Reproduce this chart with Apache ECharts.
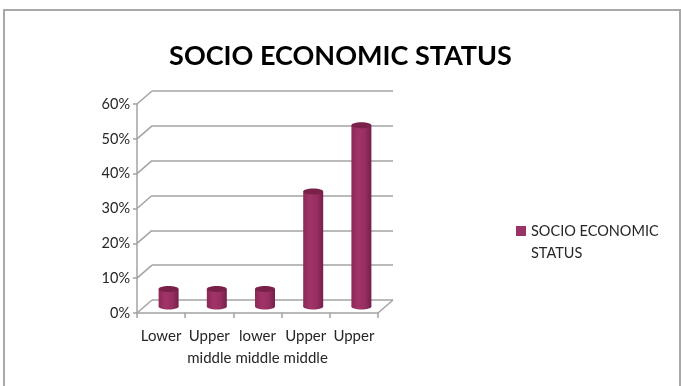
<!DOCTYPE html>
<html>
<head>
<meta charset="utf-8">
<script src="https://cdn.jsdelivr.net/npm/echarts@6/dist/echarts.min.js"></script>
<style>
  html, body { margin: 0; padding: 0; background: #fff; }
  #chart { width: 681px; height: 386px; }
</style>
</head>
<body>
<div id="chart"></div>
<script>
// Socio economic status distribution (share of respondents)
const categories = ['Lower', 'Upper\nmiddle', 'lower\nmiddle', 'Upper\nmiddle', 'Upper'];
const shares = [0.05, 0.05, 0.05, 0.33, 0.52];
const yTicks = [0, 0.1, 0.2, 0.3, 0.4, 0.5, 0.6];
const seriesName = 'SOCIO ECONOMIC STATUS';
const titleText = 'SOCIO ECONOMIC STATUS';

// depth of the pseudo-3D box (back wall is shifted right and up)
const DX = 15, DY = -13;
const FONT = 'Lato';
const GRID_GREY = '#a3a3a3';
const TEXT = '#262626';

const chart = echarts.init(document.getElementById('chart'), null, { renderer: 'canvas' });

const cylinderFill = {
  type: 'linear', x: 0, y: 0, x2: 1, y2: 0,
  colorStops: [
    { offset: 0, color: '#8c2856' },
    { offset: 0.35, color: '#a0346a' },
    { offset: 0.7, color: '#962e60' },
    { offset: 1, color: '#74204a' }
  ]
};

const option = {
  animation: false,
  backgroundColor: '#fff',
  title: {
    text: titleText,
    left: 'center',
    top: 38,
    textStyle: { fontFamily: FONT, fontWeight: 'bold', fontSize: 27, color: '#000' }
  },
  legend: {
    left: 511,
    top: 193,
    orient: 'vertical',
    itemWidth: 10,
    itemHeight: 10,
    data: [{ name: seriesName, icon: 'rect' }],
    // an empty leading line keeps the swatch level with the first text line
    formatter: () => '\nSOCIO ECONOMIC\nSTATUS',
    textStyle: { fontFamily: FONT, fontSize: 14.5, color: TEXT, lineHeight: 22 }
  },
  graphic: [{
    type: 'rect',
    shape: { x: 4, y: 10, width: 676, height: 400 },
    style: { fill: 'none', stroke: '#a8a8a8', lineWidth: 2 },
    silent: true
  }],
  grid: [
    // back wall
    { left: 152, top: 91, width: 241, height: 209 },
    // front plane
    { left: 137, top: 104, width: 241, height: 209 }
  ],
  xAxis: [
    { type: 'category', gridIndex: 0, data: categories, show: false },
    {
      type: 'category', gridIndex: 1, data: categories,
      axisLine: { lineStyle: { color: GRID_GREY, width: 1.5 } },
      axisTick: { show: true, length: 5, lineStyle: { color: GRID_GREY, width: 1.5 } },
      axisLabel: {
        interval: 0, margin: 12,
        fontFamily: FONT, fontSize: 15, color: TEXT, lineHeight: 22
      }
    }
  ],
  yAxis: [
    {
      type: 'value', gridIndex: 0, min: 0, max: 0.6, interval: 0.1,
      axisLine: { show: false }, axisTick: { show: false }, axisLabel: { show: false },
      splitLine: { lineStyle: { color: GRID_GREY, width: 1.5 } }
    },
    {
      type: 'value', gridIndex: 1, min: 0, max: 0.6, interval: 0.1,
      axisLine: { show: true, lineStyle: { color: GRID_GREY, width: 1.5 } },
      axisTick: { show: true, length: 4, lineStyle: { color: GRID_GREY, width: 1.5 } },
      splitLine: { show: false },
      axisLabel: {
        margin: 7, fontFamily: FONT, fontSize: 14.5, color: TEXT,
        formatter: v => Math.round(v * 100) + '%'
      }
    }
  ],
  series: [
    {
      // side wall and floor edges joining the front plane to the back wall
      type: 'custom',
      xAxisIndex: 1, yAxisIndex: 1,
      silent: true,
      legendHoverLink: false,
      data: yTicks.map(v => [0, v]),
      renderItem: (params, api) => {
        const cs = params.coordSys;
        const y = api.coord([0, api.value(1)])[1];
        const children = [{
          type: 'line',
          shape: { x1: cs.x, y1: y, x2: cs.x + DX, y2: y + DY },
          style: { stroke: GRID_GREY, lineWidth: 1.5 }
        }];
        if (api.value(1) === 0) {
          children.push({
            type: 'line',
            shape: { x1: cs.x + cs.width, y1: y, x2: cs.x + cs.width + DX, y2: y + DY },
            style: { stroke: GRID_GREY, lineWidth: 1.5 }
          });
        }
        return { type: 'group', children };
      }
    },
    {
      name: seriesName,
      type: 'custom',
      xAxisIndex: 1, yAxisIndex: 1,
      itemStyle: { color: '#993366' },
      data: shares.map((v, i) => [i, v]),
      renderItem: (params, api) => {
        const top = api.coord([api.value(0), api.value(1)]);
        const base = api.coord([api.value(0), 0]);
        const cx = top[0] + DX / 2;
        const yTop = top[1] + DY / 2;
        const yBase = base[1] + DY / 2;
        const w = 20, ry = 3;
        return {
          type: 'group',
          children: [
            {
              type: 'ellipse',
              shape: { cx: cx, cy: yBase, rx: w / 2, ry: ry },
              style: { fill: cylinderFill }
            },
            {
              type: 'rect',
              shape: { x: cx - w / 2, y: yTop, width: w, height: yBase - yTop },
              style: { fill: cylinderFill }
            },
            {
              type: 'ellipse',
              shape: { cx: cx, cy: yTop, rx: w / 2, ry: ry },
              style: { fill: '#7a2149' }
            }
          ]
        };
      }
    }
  ]
};

chart.setOption(option);
</script>
</body>
</html>
